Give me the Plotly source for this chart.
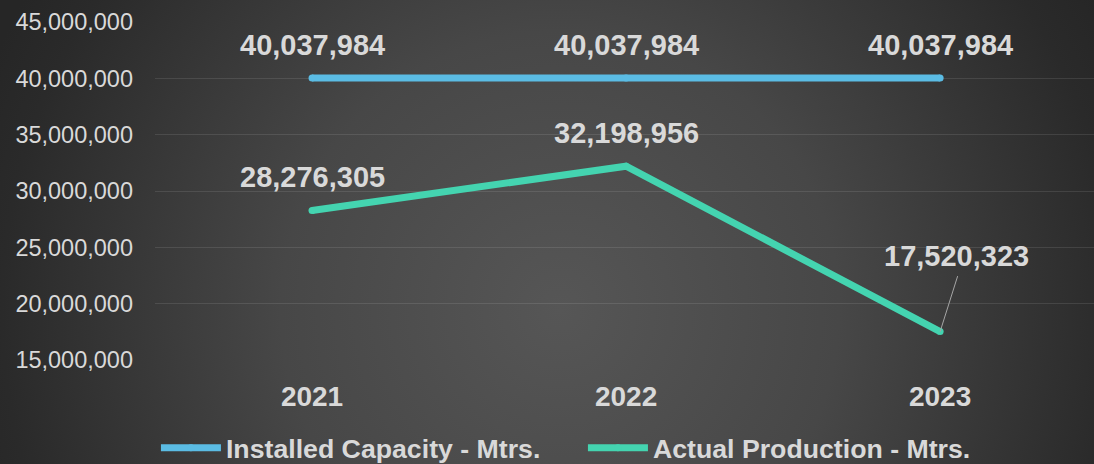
import base64
import plotly.graph_objects as go

# Yearly capacity vs. production (metres)
years = ["2021", "2022", "2023"]
installed_capacity = [40037984, 40037984, 40037984]
actual_production = [28276305, 32198956, 17520323]

y_ticks = [15000000, 20000000, 25000000, 30000000, 35000000, 40000000, 45000000]

TEXT = "#d9d9d9"
BLUE = "#5bbce4"
GREEN = "#44d4b0"
FONT = "Liberation Sans, Arial, sans-serif"

# Dark radial backdrop
bg_svg = (
    '<svg xmlns="http://www.w3.org/2000/svg" width="1094" height="464" preserveAspectRatio="none">'
    '<defs><radialGradient id="g" gradientUnits="userSpaceOnUse" cx="560" cy="310" r="620">'
    '<stop offset="0" stop-color="#565656"/>'
    '<stop offset="0.45" stop-color="#474747"/>'
    '<stop offset="0.9" stop-color="#2a2a2a"/>'
    '<stop offset="1" stop-color="#262626"/>'
    '</radialGradient></defs>'
    '<rect width="1094" height="464" fill="url(#g)"/></svg>'
)
bg_uri = "data:image/svg+xml;base64," + base64.b64encode(bg_svg.encode()).decode()

fig = go.Figure()
# small round markers give the thick lines rounded ends
fig.add_trace(go.Scatter(
    x=years, y=installed_capacity, mode="lines+markers",
    name="<b>Installed Capacity - Mtrs.</b>",
    line=dict(color=BLUE, width=7),
    marker=dict(color=BLUE, size=7, line=dict(width=0)),
))
fig.add_trace(go.Scatter(
    x=years, y=actual_production, mode="lines+markers",
    name="<b>Actual Production - Mtrs.</b>",
    line=dict(color=GREEN, width=7),
    marker=dict(color=GREEN, size=7, line=dict(width=0)),
))

# Value labels (category axis positions given by index)
label_font = dict(family=FONT, size=29, color=TEXT)
for i, v in enumerate(installed_capacity):
    fig.add_annotation(x=i, y=v, text=f"<b>{v:,}</b>", showarrow=False,
                       yshift=33, font=label_font)
last = len(actual_production) - 1
for i, v in enumerate(actual_production):
    if i == last:
        # label lifted clear of the line, joined to its point by a leader
        fig.add_annotation(x=i, y=v, text=f"<b>{v:,}</b>", showarrow=False,
                           xshift=16, yshift=76, font=label_font)
        fig.add_annotation(x=i, y=v, text="", showarrow=True,
                           ax=18, ay=-57, arrowhead=0, arrowwidth=1,
                           arrowcolor="#a6a6a6", standoff=0)
    else:
        fig.add_annotation(x=i, y=v, text=f"<b>{v:,}</b>", showarrow=False,
                           yshift=33, font=label_font)

fig.add_layout_image(dict(
    source=bg_uri, xref="paper", yref="paper",
    x=-155 / 939, y=360 / 338, sizex=1094 / 939, sizey=464 / 338,
    xanchor="left", yanchor="top", sizing="stretch", layer="below",
))

fig.update_layout(
    width=1094, height=464,
    margin=dict(l=155, r=0, t=22, b=104, autoexpand=False),
    paper_bgcolor="#3c3c3c",
    plot_bgcolor="rgba(0,0,0,0)",
    font=dict(family=FONT, color=TEXT),
    showlegend=True,
    legend=dict(
        orientation="h", x=0.001, xanchor="left", y=-0.26, yanchor="middle",
        font=dict(family=FONT, size=26.7, color=TEXT),
        bgcolor="rgba(0,0,0,0)", itemwidth=60, entrywidth=352,
    ),
    xaxis=dict(
        type="category", range=[-0.5, 2.49],
        showgrid=False, zeroline=False, showline=False, ticks="",
        tickfont=dict(family=FONT, size=28, color=TEXT),
        tickprefix="<b>", ticksuffix="</b>",
        ticklabelstandoff=17,
    ),
    yaxis=dict(
        range=[15000000, 45000000],
        tickvals=y_ticks, ticktext=[f"{t:,}" for t in y_ticks],
        showgrid=True, gridcolor="rgba(255,255,255,0.10)", gridwidth=1,
        zeroline=False, showline=False, ticks="",
        tickfont=dict(family=FONT, size=23.5, color=TEXT),
        ticklabelstandoff=21,
    ),
)

fig.write_html("out.html")
